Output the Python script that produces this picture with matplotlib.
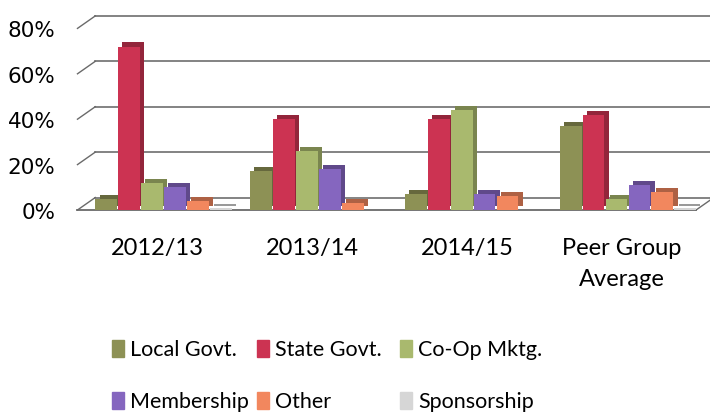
import numpy as np
import matplotlib
matplotlib.use("Agg")
from matplotlib import pyplot as plt
from matplotlib.patches import Rectangle
from matplotlib.colors import to_rgb

groups = ["2012/13", "2013/14", "2014/15", "Peer Group\nAverage"]
series = ["Local Govt.", "State Govt.", "Co-Op Mktg.", "Membership", "Other", "Sponsorship"]
local_govt = [0.05, 0.17, 0.07, 0.37]
state_govt = [0.72, 0.40, 0.40, 0.42]
coop_mktg = [0.12, 0.26, 0.44, 0.05]
membership = [0.10, 0.18, 0.07, 0.11]
other = [0.04, 0.03, 0.06, 0.08]
sponsorship = [0.01, 0.0, 0.0, 0.01]
yticks = [0, 0.2, 0.4, 0.6, 0.8]
ytick_labels = ["0%", "20%", "40%", "60%", "80%"]

colors = ["#8d9155", "#cc3352", "#a9b96e", "#8566bf", "#f2875e", "#d6d6d6"]
values = [local_govt, state_govt, coop_mktg, membership, other, sponsorship]

W, H = 710, 414
fig = plt.figure(figsize=(7.1, 4.14), dpi=100)
# axes placed in pixels: x 75..710, y(0)=211 with 227 px per unit
ylo, yhi = -0.01, 0.90
ppu = 227.0
bot_px = 211 + (-ylo) * ppu
top_px = bot_px - (yhi - ylo) * ppu
ax = fig.add_axes([75 / W, (H - bot_px) / H, 635 / W, (bot_px - top_px) / H])

x = np.arange(len(groups))
w = 0.148
dx, dy = 0.028, 0.018          # fake 3D depth of a bar
wx, wy = 0.115, 0.055          # offset of the back wall
x_left, x_right = -0.555, 3.44


def darker(c, f=0.72):
    r, g, b = to_rgb(c)
    return (r * f, g * f, b * f)


# back wall gridlines + left stubs
for v in yticks:
    ax.plot([x_left + wx, 3.6], [v + wy, v + wy], color="#7a7a7a", lw=1.3, zorder=1)
    ax.plot([x_left, x_left + wx], [v, v + wy], color="#6a6a6a", lw=1.0, zorder=1)
# floor
ax.plot([x_left, x_right], [0, 0], color="#6a6a6a", lw=1.3, zorder=1)
ax.plot([x_right, x_right + wx], [0, wy], color="#6a6a6a", lw=1.0, zorder=1)

for i, (name, vals, c) in enumerate(zip(series, values, colors)):
    pos = x + (i - 2.5) * w
    ax.bar(pos + dx, vals, w * 0.95, bottom=dy, color=darker(c), zorder=3 + i * 0.1)
    ax.bar(pos, vals, w * 0.95, color=c, zorder=3 + i * 0.1 + 0.05)

ax.set_xlim(-0.571, 3.53)
ax.set_ylim(ylo, yhi)
ax.set_yticks(yticks)
ax.set_yticklabels(ytick_labels, fontsize=15.5, family="DejaVu Sans")
ax.set_xticks(x - 0.04)
ax.set_xticklabels(groups, fontsize=17, family="Lato", linespacing=1.6)
ax.tick_params(length=0)
ax.tick_params(axis="x", pad=18)
ax.tick_params(axis="y", pad=14)
for s in ax.spines.values():
    s.set_visible(False)

# legend, laid out row by row like the original
col_px = [112, 257, 400]
row_px = [350, 402]
for k, (name, c) in enumerate(zip(series, colors)):
    px = col_px[k % 3]
    py = row_px[k // 3]
    fig.patches.append(Rectangle((px / W, (H - py - 8) / H), 12 / W, 17 / H,
                                 transform=fig.transFigure, color=c))
    fig.text((px + 18) / W, (H - py) / H, name, fontsize=15.5, family="Lato",
             va="center", ha="left")

fig.savefig("out.png", dpi=100)
